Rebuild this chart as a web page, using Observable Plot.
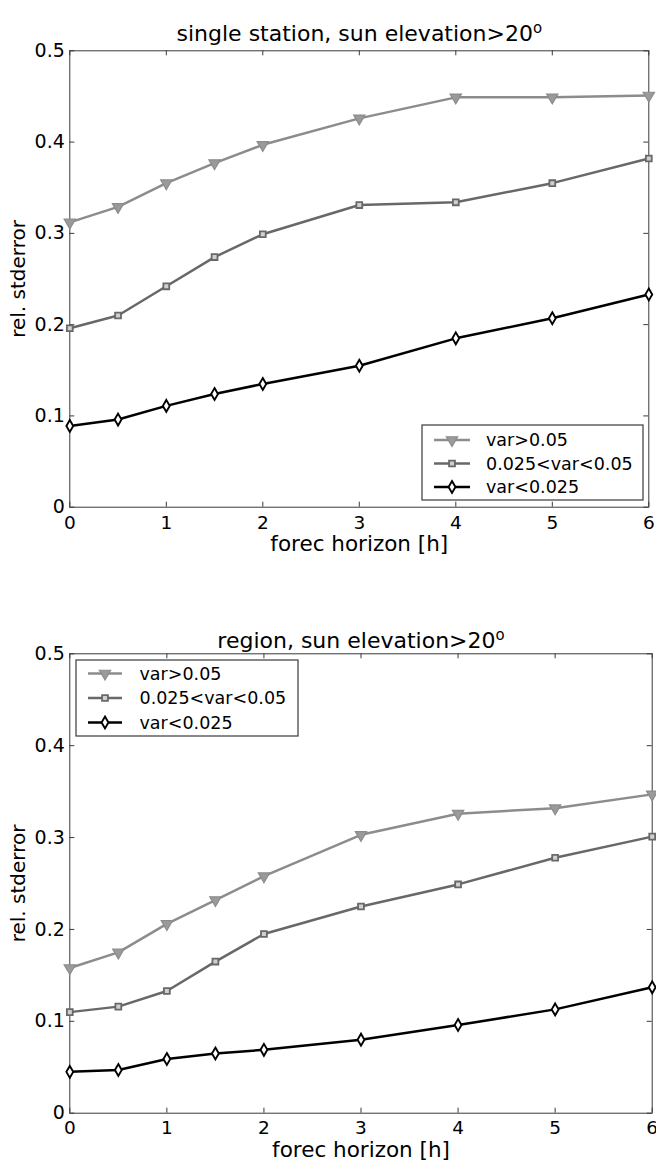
<!DOCTYPE html>
<html><head><meta charset="utf-8">
<script src="https://cdn.jsdelivr.net/npm/d3@7"></script>
<script src="https://cdn.jsdelivr.net/npm/@observablehq/plot@0.6"></script>
<style>
body{margin:0;background:#fff;}
#chart{width:656px;}
#chart svg{display:block;}
</style></head><body><div id="chart"></div>
<script>
// ---- data ----
const hours = [0, 0.5, 1, 1.5, 2, 3, 4, 5, 6];
const stationHigh = [0.312, 0.329, 0.355, 0.377, 0.397, 0.426, 0.449, 0.449, 0.451];
const stationMid  = [0.196, 0.210, 0.242, 0.274, 0.299, 0.331, 0.334, 0.355, 0.382];
const stationLow  = [0.089, 0.096, 0.111, 0.124, 0.135, 0.155, 0.185, 0.207, 0.233];
const regionHigh  = [0.158, 0.175, 0.206, 0.232, 0.258, 0.303, 0.326, 0.332, 0.347];
const regionMid   = [0.110, 0.116, 0.133, 0.165, 0.195, 0.225, 0.249, 0.278, 0.301];
const regionLow   = [0.045, 0.047, 0.059, 0.065, 0.069, 0.080, 0.096, 0.113, 0.137];
const seriesNames = ["var>0.05", "0.025<var<0.05", "var<0.025"];
const xTicks = [0, 1, 2, 3, 4, 5, 6];
const yTicks = [0, 0.1, 0.2, 0.3, 0.4, 0.5];
const titles = ["single station, sun elevation>20", "region, sun elevation>20"];
const titleSup = "o";
const xLabel = "forec horizon [h]";
const yLabel = "rel. stderror";

// ---- styles ----
const FONT = "DejaVu Sans, Verdana, sans-serif";
const styles = [
  {stroke: "#8c8c8c", symbol: "triangle", rotate: 180, r: 4.2, fill: "#9a9a9a", sw: 1.2},
  {stroke: "#686868", symbol: "square", rotate: 0, r: 3.3, fill: "#d0d0d0", sw: 1.8},
  {stroke: "#000000", symbol: "diamond", rotate: 0, r: 3.6, fill: "#ffffff", sw: 1.9}
];
const AX = "#3a3a3a";

function makeChart(cfg) {
  const {title, series, height, mt, mb, ml, mr, titleDy, xLabelDy, tickPad, legend} = cfg;
  const fw = 656 - ml - mr, fh = height - mt - mb;
  const sets = series.map((vals, k) => hours.map((h, i) => ({h, v: vals[i], k})));
  const marks = [
    Plot.frame({stroke: AX, strokeWidth: 1}),
    Plot.tickX(xTicks, {x: d => d, insetTop: fh - 5, stroke: AX}),
    Plot.tickX(xTicks, {x: d => d, insetBottom: fh - 5, stroke: AX}),
    Plot.tickY(yTicks, {y: d => d, insetRight: fw - 5, stroke: AX}),
    Plot.tickY(yTicks, {y: d => d, insetLeft: fw - 5, stroke: AX}),
    Plot.axisX({ticks: xTicks, tickSize: 0, tickPadding: tickPad, label: null, tickFormat: d => String(d), fill: "#000", fontSize: 18.5}),
    Plot.axisY({ticks: yTicks, tickSize: 0, tickPadding: 5, label: null, tickFormat: d => d === 0 ? "0" : d.toFixed(1), fill: "#000", fontSize: 19}),
    ...sets.map((s, k) => Plot.line(s, {x: "h", y: "v", stroke: styles[k].stroke, strokeWidth: 2.5})),
    ...sets.map((s, k) => Plot.dot(s, {x: "h", y: "v", symbol: () => styles[k].symbol, rotate: styles[k].rotate,
        r: styles[k].r, stroke: styles[k].stroke, fill: styles[k].fill, strokeWidth: styles[k].sw})),
    Plot.text([title], {text: d => d, frameAnchor: "top", dy: titleDy, fontSize: 22, fill: "#000", textAnchor: "middle"}),
    Plot.text([xLabel], {text: d => d, frameAnchor: "bottom", dy: xLabelDy, fontSize: 21.5, fill: "#000", textAnchor: "middle"}),
    Plot.text([yLabel], {text: d => d, frameAnchor: "left", dx: -51, rotate: -90, fontSize: 20, fill: "#000", textAnchor: "middle"})
  ];
  const svg = Plot.plot({
    width: 656, height,
    marginTop: mt, marginBottom: mb, marginLeft: ml, marginRight: mr,
    x: {domain: [0, 6]},
    y: {domain: [0, 0.5]},
    style: {fontFamily: FONT, fontSize: "19px", background: "#fff", color: "#000", overflow: "visible"},
    marks
  });
  // superscript for the title
  d3.select(svg).selectAll("text").filter(function() { return this.textContent === title; })
    .each(function() {
      d3.select(this).append("tspan").attr("dy", "-0.55em").attr("font-size", "0.68em").text(titleSup);
    });
  // legend (MATLAB style box)
  const g = d3.select(svg).append("g").attr("font-family", FONT).attr("font-size", "17.5px").attr("text-anchor", "start");
  g.append("rect").attr("x", legend.x).attr("y", legend.y).attr("width", legend.w).attr("height", legend.h)
    .attr("fill", "#fff").attr("stroke", AX).attr("stroke-width", 1.2);
  seriesNames.forEach((name, k) => {
    const y = legend.rowY[k];
    const st = styles[k];
    g.append("line").attr("x1", legend.lx1).attr("x2", legend.lx2).attr("y1", y).attr("y2", y)
      .attr("stroke", st.stroke).attr("stroke-width", 2.5);
    const sym = {triangle: d3.symbolTriangle, square: d3.symbolSquare, diamond: d3.symbolDiamond}[st.symbol];
    g.append("path").attr("d", d3.symbol(sym, st.r * st.r * Math.PI)())
      .attr("transform", `translate(${(legend.lx1 + legend.lx2) / 2},${y}) rotate(${st.rotate})`)
      .attr("fill", st.fill).attr("stroke", st.stroke).attr("stroke-width", st.sw);
    g.append("text").attr("x", legend.tx).attr("y", y).attr("dy", "0.36em").attr("fill", "#000")
      .attr("text-anchor", "start").text(name);
  });
  return svg;
}

const root = document.getElementById("chart");
root.appendChild(makeChart({
  title: titles[0], series: [stationHigh, stationMid, stationLow],
  height: 580, mt: 50.3, mb: 73.3, ml: 69.3, mr: 7.7, titleDy: -25, xLabelDy: 44, tickPad: 9,
  legend: {x: 422, y: 425, w: 221, h: 75, rowY: [440, 463.5, 487], lx1: 434, lx2: 470, tx: 486}
}));
root.appendChild(makeChart({
  title: titles[1], series: [regionHigh, regionMid, regionLow],
  height: 587, mt: 73.3, mb: 54.3, ml: 69.3, mr: 4.3, titleDy: -21.6, xLabelDy: 44, tickPad: 8,
  legend: {x: 76, y: 80, w: 222, h: 76, rowY: [93.5, 118, 142.5], lx1: 88, lx2: 122, tx: 139.5}
}));
</script>
</body></html>
